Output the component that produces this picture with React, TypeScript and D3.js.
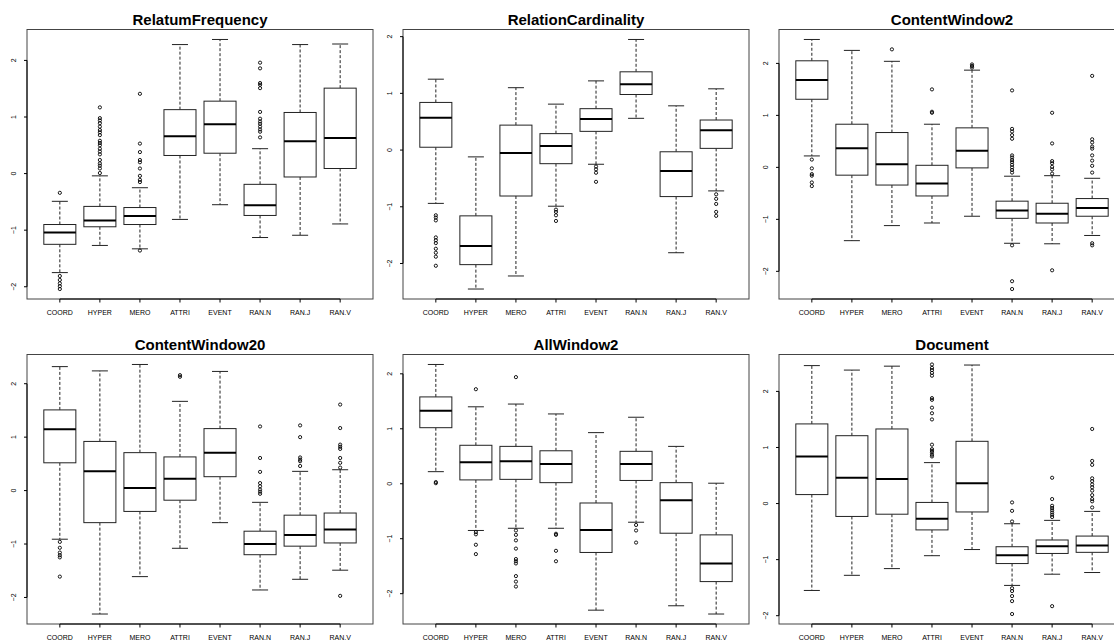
import React from 'react'
import * as d3 from 'd3'

const categories = ['COORD', 'HYPER', 'MERO', 'ATTRI', 'EVENT', 'RAN.N', 'RAN.J', 'RAN.V']

const titles = ['RelatumFrequency', 'RelationCardinality', 'ContentWindow2', 'ContentWindow20', 'AllWindow2', 'Document']

// each row: [lower whisker, Q1, median, Q3, upper whisker]
const relatumFrequencyStats = [
  [-1.75, -1.25, -1.04, -0.9, -0.49],
  [-1.27, -0.94, -0.83, -0.58, -0.04],
  [-1.33, -0.9, -0.75, -0.6, -0.25],
  [-0.81, 0.32, 0.66, 1.13, 2.28],
  [-0.55, 0.36, 0.87, 1.28, 2.37],
  [-1.13, -0.74, -0.56, -0.19, 0.44],
  [-1.09, -0.06, 0.57, 1.08, 2.28],
  [-0.89, 0.09, 0.63, 1.51, 2.29],
]
const relatumFrequencyOutliers = [
  [-0.34, -1.81, -1.88, -1.94, -1.99, -2.04],
  [1.17, 0.98, 0.94, 0.89, 0.83, 0.77, 0.73, 0.68, 0.58, 0.54, 0.5, 0.44, 0.39, 0.34, 0.24, 0.18, 0.14, 0.09, 0.01],
  [1.41, 0.53, 0.38, 0.24, 0.2, 0.09, -0.04, -0.11, -0.15, -1.36],
  [],
  [],
  [1.96, 1.86, 1.6, 1.57, 1.51, 1.09, 0.97, 0.92, 0.88, 0.83, 0.78, 0.74, 0.64],
  [],
  [],
]

const relationCardinalityStats = [
  [-0.94, 0.05, 0.57, 0.84, 1.25],
  [-2.45, -2.02, -1.69, -1.16, -0.12],
  [-2.22, -0.81, -0.05, 0.44, 1.1],
  [-0.99, -0.24, 0.07, 0.29, 0.81],
  [-0.25, 0.33, 0.55, 0.73, 1.22],
  [0.56, 0.98, 1.16, 1.38, 1.95],
  [-1.81, -0.82, -0.37, -0.03, 0.78],
  [-0.72, 0.03, 0.35, 0.53, 1.08],
]
const relationCardinalityOutliers = [
  [-1.15, -1.19, -1.24, -1.54, -1.59, -1.64, -1.74, -1.81, -1.88, -2.04],
  [],
  [],
  [-1.05, -1.09, -1.15, -1.25],
  [-0.29, -0.34, -0.4, -0.56],
  [],
  [],
  [-0.78, -0.86, -0.95, -1.09, -1.16],
]

const contentWindow2Stats = [
  [0.22, 1.31, 1.68, 2.05, 2.46],
  [-1.41, -0.15, 0.37, 0.83, 2.25],
  [-1.12, -0.34, 0.06, 0.67, 2.04],
  [-1.07, -0.55, -0.31, 0.04, 0.83],
  [-0.94, -0.01, 0.32, 0.76, 1.87],
  [-1.46, -0.98, -0.83, -0.65, -0.17],
  [-1.47, -1.07, -0.89, -0.69, -0.16],
  [-1.31, -0.94, -0.78, -0.6, -0.21],
]
const contentWindow2Outliers = [
  [0.15, -0.02, -0.13, -0.16, -0.29, -0.36],
  [],
  [2.27],
  [1.5, 1.07, 1.05],
  [1.98, 1.95, 1.92],
  [1.48, 0.74, 0.69, 0.62, 0.55, 0.23, 0.19, 0.14, 0.1, 0.05, 0.0, -0.05, -0.1, -1.5, -2.19, -2.34],
  [1.05, 0.46, 0.12, 0.08, 0.01, -0.04, -0.12, -1.98],
  [1.76, 0.54, 0.48, 0.4, 0.36, 0.23, 0.13, 0.03, -0.1, -1.46, -1.5],
]

const contentWindow20Stats = [
  [-0.91, 0.52, 1.15, 1.51, 2.32],
  [-2.31, -0.6, 0.36, 0.92, 2.24],
  [-1.61, -0.39, 0.05, 0.71, 2.36],
  [-1.08, -0.18, 0.22, 0.63, 1.67],
  [-0.6, 0.26, 0.71, 1.16, 2.23],
  [-1.86, -1.2, -1.0, -0.76, -0.22],
  [-1.66, -1.04, -0.83, -0.46, 0.36],
  [-1.49, -0.98, -0.73, -0.42, 0.39],
]
const contentWindow20Outliers = [
  [-0.96, -1.07, -1.16, -1.21, -1.25, -1.61],
  [],
  [],
  [2.16, 2.13],
  [],
  [1.2, 0.61, 0.35, 0.14, 0.08, 0.02, -0.02, -0.06],
  [1.22, 1.0, 0.62, 0.58, 0.55, 0.46],
  [1.61, 1.17, 0.86, 0.82, 0.78, 0.61, 0.52, 0.43, -1.97],
]

const allWindow2Stats = [
  [0.22, 1.02, 1.33, 1.58, 2.17],
  [-0.85, 0.07, 0.39, 0.7, 1.4],
  [-0.81, 0.08, 0.41, 0.68, 1.45],
  [-0.81, 0.02, 0.36, 0.6, 1.27],
  [-2.3, -1.25, -0.84, -0.35, 0.93],
  [-0.7, 0.06, 0.36, 0.59, 1.21],
  [-2.22, -0.9, -0.3, 0.02, 0.68],
  [-2.37, -1.78, -1.45, -0.93, 0.01],
]
const allWindow2Outliers = [
  [0.03, 0.01],
  [1.72, -0.88, -0.92, -1.11, -1.28],
  [1.94, -0.85, -0.93, -1.03, -1.18, -1.37, -1.41, -1.45, -1.68, -1.78, -1.87],
  [-0.91, -0.93, -1.22, -1.41],
  [],
  [-0.75, -0.85, -1.07],
  [],
  [],
]

const documentStats = [
  [-1.55, 0.16, 0.84, 1.42, 2.46],
  [-1.28, -0.23, 0.46, 1.21, 2.38],
  [-1.16, -0.19, 0.44, 1.33, 2.45],
  [-0.93, -0.47, -0.27, 0.02, 0.73],
  [-0.82, -0.15, 0.36, 1.11, 2.47],
  [-1.46, -1.07, -0.92, -0.77, -0.36],
  [-1.26, -0.89, -0.76, -0.65, -0.3],
  [-1.23, -0.87, -0.75, -0.58, -0.14],
]
const documentOutliers = [
  [],
  [],
  [],
  [2.48, 2.42, 2.38, 2.33, 2.28, 1.88, 1.85, 1.71, 1.61, 1.5, 1.05, 0.97, 0.94, 0.91, 0.87, 0.84],
  [],
  [0.02, -0.13, -0.32, -1.51, -1.56, -1.65, -1.74, -1.97],
  [0.46, 0.08, -0.04, -0.08, -0.12, -0.16, -0.2, -0.24, -1.83],
  [1.33, 0.76, 0.69, 0.45, 0.4, 0.34, 0.29, 0.23, 0.15, 0.08, 0.04, -0.07],
]

const panelStats = [relatumFrequencyStats, relationCardinalityStats, contentWindow2Stats, contentWindow20Stats, allWindow2Stats, documentStats]
const panelOutliers = [relatumFrequencyOutliers, relationCardinalityOutliers, contentWindow2Outliers, contentWindow20Outliers, allWindow2Outliers, documentOutliers]

const W = 1114
const H = 641
const colLeft = [27, 403, 779]
const rowTop = [29.5, 354.5]
const boxW = 346
const boxH = 269.5

const labelFont = '"Liberation Sans Narrow", "Arial Narrow", "Liberation Sans", Arial, sans-serif'
const titleFont = '"Liberation Sans", Arial, Helvetica, sans-serif'

// R style range: data extent padded by 4%
const padded = (lo: number, hi: number) => {
  const r = hi - lo
  return [lo - 0.04 * r, hi + 0.04 * r]
}

const Panel = ({ idx }: { idx: number }) => {
  const stats = panelStats[idx]
  const outs = panelOutliers[idx]
  const left = colLeft[idx % 3]
  const top = rowTop[Math.floor(idx / 3)]
  const bottom = top + boxH

  const all = stats.flat().concat(outs.flat())
  const [lo, hi] = padded(d3.min(all)!, d3.max(all)!)
  const y = d3.scaleLinear().domain([lo, hi]).range([bottom, top])
  const [xlo, xhi] = padded(0.5, categories.length + 0.5)
  const x = d3.scaleLinear().domain([xlo, xhi]).range([left, left + boxW])
  const halfBox = (x(1.4) - x(1)) // box width 0.8
  const halfCap = halfBox / 2

  const yTicks = y.ticks(5).filter(t => Number.isInteger(t))
  const line = '#222'

  return (
    <g>
      <text x={left + boxW / 2} y={top - 4.5} textAnchor="middle" fontFamily={titleFont} fontWeight="bold" fontSize={15} fill="#000">
        {titles[idx]}
      </text>
      <rect x={left} y={top} width={boxW} height={boxH} fill="none" stroke="#444" strokeWidth={1} />
      {/* y axis */}
      <line x1={left} x2={left} y1={y(yTicks[0])} y2={y(yTicks[yTicks.length - 1])} stroke="#000" />
      {yTicks.map(t => (
        <g key={t}>
          <line x1={left - 3} x2={left} y1={y(t)} y2={y(t)} stroke="#000" />
          <text transform={`translate(${left - 11.2},${y(t)}) rotate(-90)`} textAnchor="middle" fontFamily={labelFont} fontSize={7} fill="#000">
            {t < 0 ? `\u2212${Math.abs(t)}` : t}
          </text>
        </g>
      ))}
      {/* x axis */}
      <line x1={x(1)} x2={x(categories.length)} y1={bottom} y2={bottom} stroke="#000" />
      {categories.map((c, i) => (
        <g key={c}>
          <line x1={x(i + 1)} x2={x(i + 1)} y1={bottom} y2={bottom + 3.5} stroke="#000" />
          <text x={x(i + 1)} y={bottom + 16} textAnchor="middle" fontFamily={labelFont} fontSize={7} fill="#000">
            {c}
          </text>
        </g>
      ))}
      {/* boxes */}
      {stats.map((s, i) => {
        const cx = x(i + 1)
        const [wl, q1, med, q3, wh] = s
        return (
          <g key={i}>
            <line x1={cx} x2={cx} y1={y(q3)} y2={y(wh)} stroke={line} strokeDasharray="3,2" />
            <line x1={cx} x2={cx} y1={y(q1)} y2={y(wl)} stroke={line} strokeDasharray="3,2" />
            <line x1={cx - halfCap} x2={cx + halfCap} y1={y(wh)} y2={y(wh)} stroke={line} />
            <line x1={cx - halfCap} x2={cx + halfCap} y1={y(wl)} y2={y(wl)} stroke={line} />
            <rect x={cx - halfBox} y={y(q3)} width={halfBox * 2} height={y(q1) - y(q3)} fill="#fff" stroke={line} />
            <line x1={cx - halfBox} x2={cx + halfBox} y1={y(med)} y2={y(med)} stroke="#000" strokeWidth={2} />
            {outs[i].map((o, j) => (
              <circle key={j} cx={cx} cy={y(o)} r={1.6} fill="none" stroke="#000" strokeWidth={0.9} />
            ))}
          </g>
        )
      })}
    </g>
  )
}

export default function App() {
  return (
    <svg width={W} height={H} style={{ position: 'absolute', left: 0, top: 0, background: '#fff' }}>
      <rect width={W} height={H} fill="#fff" />
      {titles.map((t, i) => (
        <Panel key={t} idx={i} />
      ))}
    </svg>
  )
}
